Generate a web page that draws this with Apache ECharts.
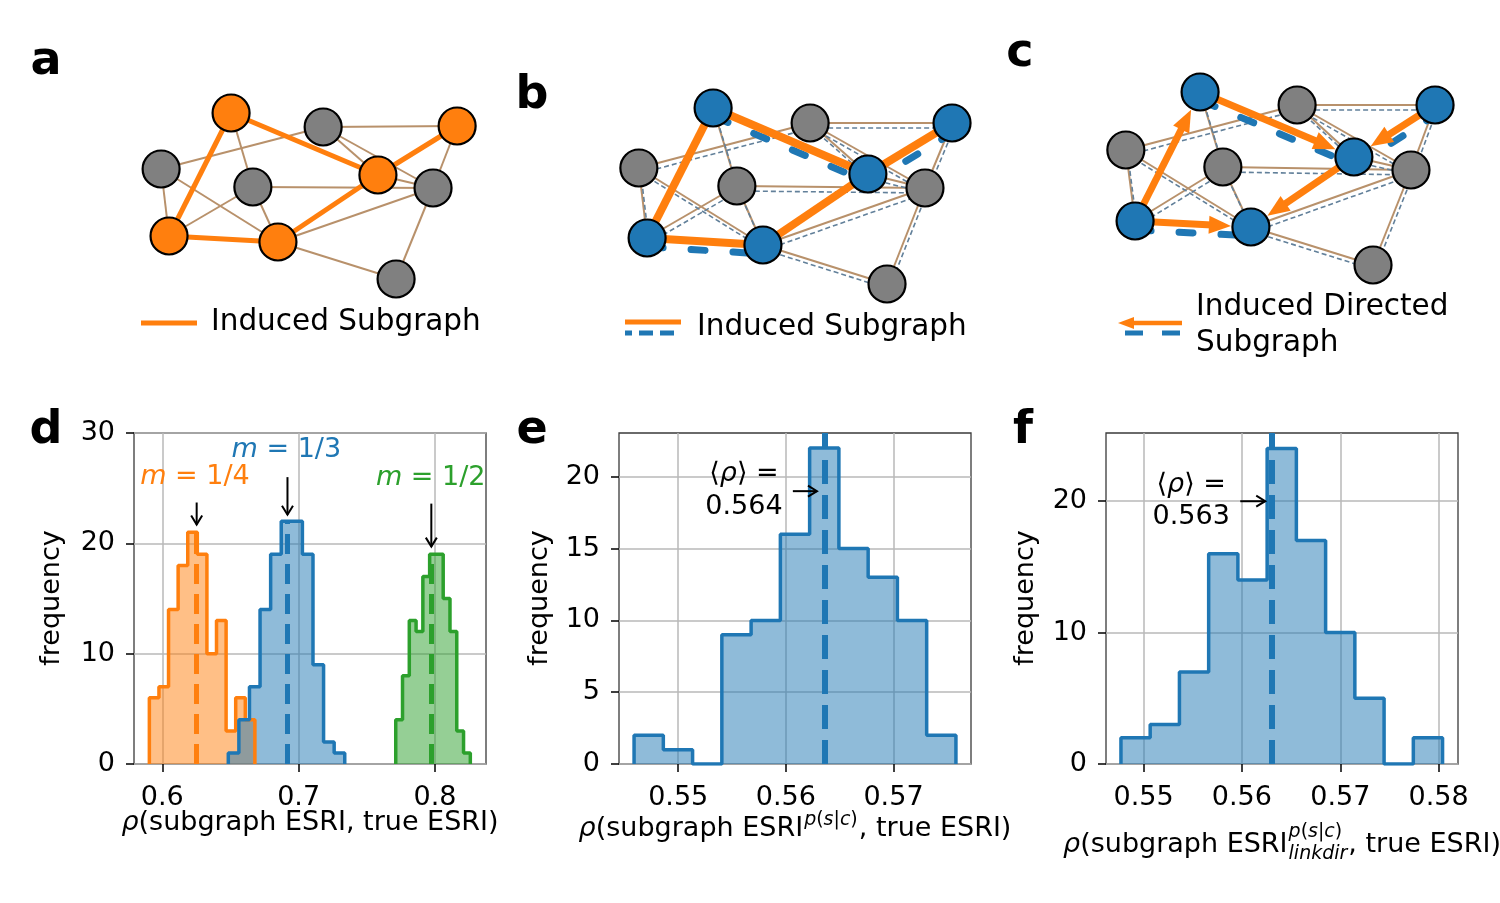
<!DOCTYPE html>
<html><head><meta charset="utf-8">
<script src="https://cdn.jsdelivr.net/npm/echarts@6/dist/echarts.min.js"></script>
<style>html,body{margin:0;padding:0;background:#fff}#c{width:1500px;height:903px}</style>
</head><body><div id="c"></div>
<script>
// ================= DATA =================
// Network (same topology in panels a, b, c). Node layout coordinates (x right, y up).
const nodeInSubgraph = [1,0,1,0,0,1,0,1,1,0];
const nodePosA = [[2.76,5.46],[5.55,5.04],[9.61,5.07],[0.64,3.78],[3.42,3.24],[7.21,3.60],[8.88,3.21],[0.88,1.77],[4.18,1.59],[7.76,0.48]];
const nodePosB = [[2.67,5.61],[5.61,5.16],[9.91,5.16],[0.42,3.81],[3.39,3.27],[7.36,3.63],[9.09,3.21],[0.67,1.71],[4.18,1.50],[7.94,0.33]];
const nodePosC = [[2.73,5.64],[5.67,5.25],[9.85,5.25],[0.48,3.90],[3.42,3.39],[7.39,3.69],[9.12,3.30],[0.76,1.77],[4.27,1.59],[7.97,0.45]];
const edgeList = [[1,2],[3,1],[3,7],[3,8],[0,4],[0,5],[0,7],[7,8],[8,5],[5,2],[7,4],[4,6],[4,8],[1,5],[1,6],[5,6],[2,6],[8,6],[8,9],[6,9]];
const secondLayerSubEdges = [[0,5],[7,8],[5,2]];
const directedSubEdges = [[7,0],[0,5],[2,5],[5,8],[7,8]];

// Histograms panel d
const histD_m4_counts = [6,7,14,18,21,19,10,13,3,6,4];
const histD_m4_range = [0.5905, 0.6679];
const histD_m3_counts = [1,4,7,14,19,22,22,19,9,2,1];
const histD_m3_range = [0.6484, 0.7338];
const histD_m2_counts = [4,8,13,12,17,19,19,15,12,3,1];
const histD_m2_range = [0.7712, 0.8259];
const histD_means = [0.6252, 0.6918, 0.7973];
const histD_labels = ['1/4','1/3','1/2'];
// Histogram panel e
const histE_counts = [2,1,0,9,10,16,22,15,13,10,2];
const histE_range = [0.5459, 0.5758];
const histE_mean = 0.5636;
const histE_meanLabel = '0.564';
// Histogram panel f
const histF_counts = [2,3,7,16,14,24,17,10,5,0,2];
const histF_range = [0.5477, 0.5804];
const histF_mean = 0.5630;
const histF_meanLabel = '0.563';
// Tick labels
const ticksD_x = [0.6,0.7,0.8], ticksD_y = [0,10,20,30];
const ticksE_x = [0.55,0.56,0.57], ticksE_y = [0,5,10,15,20];
const ticksF_x = [0.55,0.56,0.57,0.58], ticksF_y = [0,10,20];

// ================= STYLE =================
const FF = 'DejaVu Sans';
const C_OR='#ff7f0e', C_BL='#1f77b4', C_GR='#2ca02c', C_GRAY='#808080', C_BROWN='#b8916b', C_THIN='#62809a';
const FS = 27;

function measure(t, size, italic, bold){
  const ctx = measure.ctx || (measure.ctx = document.createElement('canvas').getContext('2d'));
  ctx.font = (italic?'italic ':'')+(bold?'bold ':'')+size+'px "'+FF+'"';
  return ctx.measureText(t).width;
}
function txt(x,y,t,size,opt){
  opt = opt||{};
  const st = {text:t, fontSize:size, fontFamily:FF, fontStyle:opt.italic?'italic':'normal', fontWeight:opt.bold?'bold':'normal',
    fill:opt.color||'#000', textAlign:opt.align||'left', textVerticalAlign:'middle', align:opt.align||'left', verticalAlign:'middle'};
  const el = {type:'text', x, y, style:st, silent:true, z:50};
  if (opt.rotation) el.rotation = opt.rotation;
  return el;
}
function tokens(list, x, y, size){ // list of [text, italic]
  const els=[]; let cx=x;
  list.forEach(([t,it])=>{ els.push(txt(cx,y,t,size,{italic:it})); cx+=measure(t,size,it); });
  return {els, w:cx-x};
}
function tokensWidth(list,size){ return list.reduce((s,[t,it])=>s+measure(t,size,it),0); }

// ================= GRIDS =================
const grids = [
  {left:140, top:95, width:330, height:200},
  {left:625, top:95, width:330, height:200},
  {left:1110, top:80, width:330, height:200},
  {left:134, top:433, width:352, height:331, show:true, borderColor:'#3a3a3a', borderWidth:1.3},
  {left:619, top:433, width:352, height:331, show:true, borderColor:'#3a3a3a', borderWidth:1.3},
  {left:1106, top:433, width:352, height:331, show:true, borderColor:'#3a3a3a', borderWidth:1.3}
];
const xAxes=[], yAxes=[];
for (let i=0;i<3;i++){
  xAxes.push({type:'value', gridIndex:i, min:0, max:10, show:false});
  yAxes.push({type:'value', gridIndex:i, min:0, max:6, show:false});
}
function histX(gi,min,max,ticks,dec){
  return {type:'value', gridIndex:gi, min, max,
    axisLine:{show:false},
    axisTick:{show:true, inside:false, length:8, customValues:ticks, lineStyle:{color:'#000', width:1.5}},
    axisLabel:{customValues:ticks, fontSize:FS, fontFamily:FF, color:'#000', margin:20, formatter:v=>v.toFixed(dec)},
    splitLine:{show:true, lineStyle:{color:'#b8b8b8', width:1.5}}};
}
function histY(gi,max,ticks){
  return {type:'value', gridIndex:gi, min:0, max,
    axisLine:{show:false},
    axisTick:{show:true, inside:false, length:8, customValues:ticks, lineStyle:{color:'#000', width:1.5}},
    axisLabel:{customValues:ticks, fontSize:FS, fontFamily:FF, color:'#000', margin:19, formatter:v=>String(Math.round(v))},
    splitLine:{show:true, lineStyle:{color:'#b8b8b8', width:1.5}}};
}
const yMaxD = 30, yMaxE = 23.05, yMaxF = 25.18;
xAxes.push(histX(3,0.57924,0.8374,ticksD_x,1), histX(4,0.5445,0.5772,ticksE_x,2), histX(5,0.54618,0.58197,ticksF_x,2));
yAxes.push(histY(3,yMaxD,ticksD_y), histY(4,yMaxE,ticksE_y), histY(5,yMaxF,ticksF_y));

// ================= NETWORK SERIES =================
const series = [];
function edgeSeries(gi,pos,list,style,off,z){
  series.push({type:'custom', xAxisIndex:gi, yAxisIndex:gi, silent:true, z,
    dimensions:['x1','y1','x2','y2'], encode:{x:[0,2], y:[1,3]},
    data:list.map(([s,t])=>[pos[s][0],pos[s][1],pos[t][0],pos[t][1]]),
    renderItem:(p,api)=>{
      const a=api.coord([api.value(0),api.value(1)]), b=api.coord([api.value(2),api.value(3)]);
      return {type:'line', shape:{x1:a[0]+off[0],y1:a[1]+off[1],x2:b[0]+off[0],y2:b[1]+off[1]}, style:Object.assign({fill:null},style)};
    }});
}
function arrowSeries(gi,pos,list,z){
  series.push({type:'custom', xAxisIndex:gi, yAxisIndex:gi, silent:true, z,
    dimensions:['x1','y1','x2','y2'], encode:{x:[0,2], y:[1,3]},
    data:list.map(([s,t])=>[pos[s][0],pos[s][1],pos[t][0],pos[t][1]]),
    renderItem:(p,api)=>{
      const a=api.coord([api.value(0),api.value(1)]), b=api.coord([api.value(2),api.value(3)]);
      const dx=b[0]-a[0], dy=b[1]-a[1], L=Math.hypot(dx,dy), ux=dx/L, uy=dy/L;
      const R=20, HL=22, HW=9;
      const tip=[b[0]-ux*R,b[1]-uy*R], base=[tip[0]-ux*HL,tip[1]-uy*HL];
      return {type:'group', children:[
        {type:'line', shape:{x1:a[0],y1:a[1],x2:base[0]+ux*3,y2:base[1]+uy*3}, style:{stroke:C_OR, lineWidth:7}},
        {type:'polygon', shape:{points:[tip,[base[0]-uy*HW,base[1]+ux*HW],[base[0]+uy*HW,base[1]-ux*HW]]}, style:{fill:C_OR}}
      ]};
    }});
}
function nodeSeries(gi,pos,subColor){
  series.push({type:'scatter', xAxisIndex:gi, yAxisIndex:gi, silent:true, clip:false, z:10,
    symbolSize:37, itemStyle:{borderColor:'#000', borderWidth:2.2, opacity:1},
    data:pos.map((p,i)=>({value:p, itemStyle:{color: nodeInSubgraph[i]?subColor:C_GRAY}}))});
}
const induced = edgeList.filter(([s,t])=>nodeInSubgraph[s]&&nodeInSubgraph[t]);
const nonInduced = edgeList.filter(([s,t])=>!(nodeInSubgraph[s]&&nodeInSubgraph[t]));
// panel a
edgeSeries(0,nodePosA,edgeList,{stroke:C_BROWN,lineWidth:2},[0,0],1);
edgeSeries(0,nodePosA,induced,{stroke:C_OR,lineWidth:5},[0,0],4);
nodeSeries(0,nodePosA,C_OR);
// panel b
edgeSeries(1,nodePosB,edgeList,{stroke:C_BROWN,lineWidth:2},[0,0],1);
edgeSeries(1,nodePosB,nonInduced,{stroke:C_THIN,lineWidth:1.6,lineDash:[5,3]},[2,5],2);
edgeSeries(1,nodePosB,secondLayerSubEdges,{stroke:C_BL,lineWidth:7,lineDash:[14,28],lineCap:'round'},[2,9],3);
edgeSeries(1,nodePosB,induced,{stroke:C_OR,lineWidth:8},[0,0],4);
nodeSeries(1,nodePosB,C_BL);
// panel c
edgeSeries(2,nodePosC,nonInduced,{stroke:C_BROWN,lineWidth:2},[0,0],1);
edgeSeries(2,nodePosC,nonInduced,{stroke:C_THIN,lineWidth:1.6,lineDash:[5,3]},[2,5],2);
edgeSeries(2,nodePosC,secondLayerSubEdges,{stroke:C_BL,lineWidth:7,lineDash:[14,28],lineCap:'round'},[2,9],3);
arrowSeries(2,nodePosC,directedSubEdges,4);
nodeSeries(2,nodePosC,C_BL);

// ================= HISTOGRAM SERIES =================
function stepData(counts, range){
  const n=counts.length, w=(range[1]-range[0])/n, pts=[[range[0],0]];
  counts.forEach((c,i)=>pts.push([range[0]+i*w,c]));
  pts.push([range[1],counts[n-1]]); pts.push([range[1],0]);
  return pts;
}
function hist(gi,counts,range,color,fill,mean,top,dash,dw){
  series.push({type:'line', xAxisIndex:gi, yAxisIndex:gi, step:'end', symbol:'none', silent:true, z:3,
    data:stepData(counts,range), lineStyle:{color, width:3.5}, areaStyle:{color:fill, opacity:1},
    markLine:{silent:true, symbol:'none', label:{show:false}, animation:false, precision:6,
      lineStyle:{color, width:dw, type:dash, opacity:1},
      data: [[{coord:[mean,0]},{coord:[mean,top]}]]}});
}
hist(3,histD_m4_counts,histD_m4_range,C_OR,'rgba(255,127,14,0.5)',histD_means[0],Math.max(...histD_m4_counts),[20,10],5);
hist(3,histD_m3_counts,histD_m3_range,C_BL,'rgba(31,119,180,0.5)',histD_means[1],Math.max(...histD_m3_counts),[20,10],5);
hist(3,histD_m2_counts,histD_m2_range,C_GR,'rgba(44,160,44,0.5)',histD_means[2],Math.max(...histD_m2_counts),[20,10],5);
hist(4,histE_counts,histE_range,C_BL,'rgba(31,119,180,0.5)',histE_mean,yMaxE,[24,11],6);
hist(5,histF_counts,histF_range,C_BL,'rgba(31,119,180,0.5)',histF_mean,yMaxF,[24,11],6);

// annotations (arrows in data coords, open head)
function annArrows(gi,list){
  series.push({type:'custom', xAxisIndex:gi, yAxisIndex:gi, silent:true, z:20,
    dimensions:['x1','y1','x2','y2'], encode:{x:[0,2], y:[1,3]}, data:list,
    renderItem:(p,api)=>{
      const a=api.coord([api.value(0),api.value(1)]), b=api.coord([api.value(2),api.value(3)]);
      const dx=b[0]-a[0], dy=b[1]-a[1], L=Math.hypot(dx,dy), ux=dx/L, uy=dy/L, h=9, w=5.5;
      const bx=b[0]-ux*h, by=b[1]-uy*h;
      return {type:'group', children:[
        {type:'line', shape:{x1:a[0],y1:a[1],x2:b[0],y2:b[1]}, style:{stroke:'#000', lineWidth:2}},
        {type:'polyline', shape:{points:[[bx-uy*w,by+ux*w],[b[0],b[1]],[bx+uy*w,by-ux*w]]}, style:{stroke:'#000', lineWidth:2, fill:null}}
      ]};
    }});
}
function annTexts(gi,list){ // [x,y,text,color]
  series.push({type:'custom', xAxisIndex:gi, yAxisIndex:gi, silent:true, z:20,
    dimensions:['x','y'], encode:{x:0,y:1}, data:list.map(d=>[d[0],d[1]]),
    renderItem:(p,api)=>{
      const d=list[p.dataIndex]; const c=api.coord([api.value(0),api.value(1)]);
      return {type:'text', x:c[0], y:c[1], style:{text:d[2], fontSize:FS, fontFamily:FF, fill:d[3], textAlign:'center', textVerticalAlign:'middle', align:'center', verticalAlign:'middle',
        rich:{i:{fontStyle:'italic', fontSize:FS, fontFamily:FF, fill:d[3], color:d[3]}, n:{fontSize:FS, fontFamily:FF, fill:d[3], color:d[3]}}}};
    }});
}
annArrows(3,[[histD_means[0],23.7,histD_means[0],21.7],[histD_means[1],26.0,histD_means[1],22.6],[histD_means[2],23.6,histD_means[2],19.7]]);
annTexts(3,[[0.62396,26.02,'{i|m}{n| = '+histD_labels[0]+'}',C_OR],[0.69099,28.47,'{i|m}{n| = '+histD_labels[1]+'}',C_BL],[0.79685,25.93,'{i|m}{n| = '+histD_labels[2]+'}',C_GR]]);
annArrows(4,[[0.56065,19.0,0.56289,19.0]]);
annTexts(4,[[0.55611,20.19,'{n|⟨}{i|ρ}{n|⟩ =}','#000'],[0.55611,17.89,'{n|'+histE_meanLabel+'}','#000']]);
annArrows(5,[[0.55983,19.99,0.56237,19.99]]);
annTexts(5,[[0.55484,21.21,'{n|⟨}{i|ρ}{n|⟩ =}','#000'],[0.55484,18.82,'{n|'+histF_meanLabel+'}','#000']]);

// ================= GRAPHIC (letters, legends, axis titles) =================
const g = [];
[['a',46,62],['b',532,96],['c',1020,54],['d',46,431],['e',532,431],['f',1023,431]].forEach(([t,x,y])=>g.push(txt(x,y,t,46,{bold:true,align:'center'})));
// legend a
g.push({type:'line', shape:{x1:141,y1:323,x2:197,y2:323}, style:{stroke:C_OR,lineWidth:5}, z:50});
g.push(txt(211,322,'Induced Subgraph',29.5));
// legend b
g.push({type:'line', shape:{x1:625,y1:322,x2:681,y2:322}, style:{stroke:C_OR,lineWidth:5}, z:50});
g.push({type:'line', shape:{x1:625,y1:333,x2:681,y2:333}, style:{stroke:C_BL,lineWidth:5,lineDash:[14,7],lineDashOffset:7}, z:50});
g.push(txt(697,327,'Induced Subgraph',29.5));
// legend c
g.push({type:'line', shape:{x1:1130,y1:323,x2:1182,y2:323}, style:{stroke:C_OR,lineWidth:4.5}, z:50});
g.push({type:'polygon', shape:{points:[[1118,323],[1134,317],[1134,329]]}, style:{fill:C_OR}, z:50});
g.push({type:'line', shape:{x1:1125,y1:333,x2:1181,y2:333}, style:{stroke:C_BL,lineWidth:5,lineDash:[18,19]}, z:50});
g.push(txt(1196,307,'Induced Directed',29.5));
g.push(txt(1196,343,'Subgraph',29.5));
// y titles
[[52,598],[540,598],[1026,598]].forEach(([x,y])=>g.push(txt(x,y,'frequency',FS,{align:'center',rotation:Math.PI/2})));
// x title d
(function(){
  const L=[['ρ',true],['(subgraph ESRI, true ESRI)',false]];
  const w=tokensWidth(L,FS); g.push(...tokens(L,310-w/2,823,FS).els);
})();
// x title e
(function(){
  const A=[['ρ',true],['(subgraph ESRI',false]], S=[['p',true],['(',false],['s',true],['|',false],['c',true],[')',false]], B=[[', true ESRI)',false]];
  const ss=19, w=tokensWidth(A,FS)+tokensWidth(S,ss)+2+tokensWidth(B,FS);
  let x=795-w/2; const a=tokens(A,x,829,FS); g.push(...a.els); x+=a.w+1;
  const s=tokens(S,x,820,ss); g.push(...s.els); x+=s.w+1;
  g.push(...tokens(B,x,829,FS).els);
})();
// x title f
(function(){
  const A=[['ρ',true],['(subgraph ESRI',false]], S=[['p',true],['(',false],['s',true],['|',false],['c',true],[')',false]], U=[['linkdir',true]], B=[[', true ESRI)',false]];
  const ss=19, sw=Math.max(tokensWidth(S,ss),tokensWidth(U,ss));
  const w=tokensWidth(A,FS)+sw+2+tokensWidth(B,FS);
  let x=1282-w/2; const a=tokens(A,x,845,FS); g.push(...a.els); x+=a.w+1;
  g.push(...tokens(S,x,832,ss).els); g.push(...tokens(U,x,854,ss).els); x+=sw+1;
  g.push(...tokens(B,x,845,FS).els);
})();

const chart = echarts.init(document.getElementById('c'), null, {renderer:'canvas'});
chart.setOption({backgroundColor:'#fff', animation:false, grid:grids, xAxis:xAxes, yAxis:yAxes, series, graphic:{elements:g}});
</script></body></html>
